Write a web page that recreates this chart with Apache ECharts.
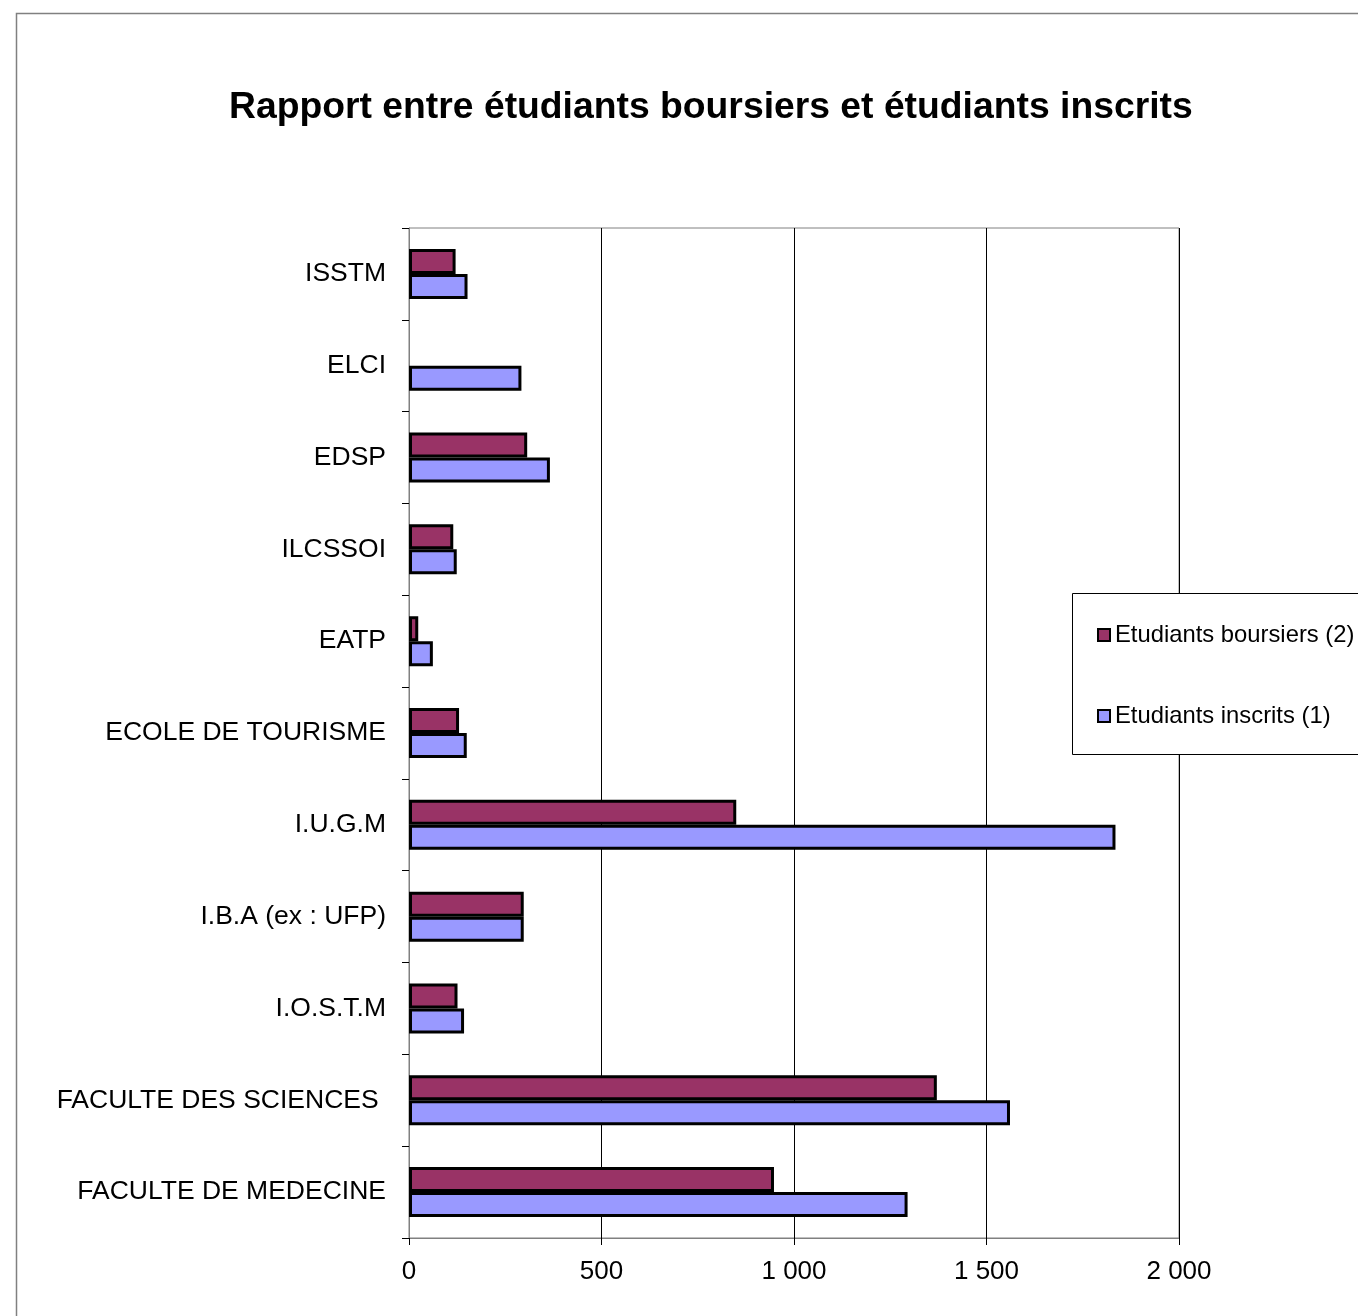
<!DOCTYPE html>
<html>
<head>
<meta charset="utf-8">
<script src="https://cdn.jsdelivr.net/npm/echarts@6/dist/echarts.min.js"></script>
<style>
html,body{margin:0;padding:0;background:#fff;}
#chart{width:1358px;height:1316px;}
</style>
</head>
<body>
<div id="chart"></div>
<script>
// Categories listed bottom to top
const categories = ['FACULTE DE MEDECINE', 'FACULTE DES SCIENCES ', 'I.O.S.T.M', 'I.B.A (ex : UFP)', 'I.U.G.M', 'ECOLE DE TOURISME', 'EATP', 'ILCSSOI', 'EDSP', 'ELCI', 'ISSTM'];
const boursiers = [948, 1371, 126, 298, 850, 130, 24, 115, 307, 0, 121];
const inscrits = [1295, 1561, 143, 298, 1835, 150, 62, 124, 366, 292, 152];
const seriesNames = ['Etudiants boursiers (2)', 'Etudiants inscrits (1)'];
const xTicks = [0, 500, 1000, 1500, 2000];

const font = '"Liberation Sans", Arial, sans-serif';
const chart = echarts.init(document.getElementById('chart'), null, {renderer: 'canvas'});

function fmt(v) {
  return String(v).replace(/\B(?=(\d{3})+(?!\d))/g, ' ');
}
function barData(arr) {
  return arr.map(v => v === 0 ? {value: 0, itemStyle: {borderWidth: 0}} : v);
}

chart.setOption({
  animation: false,
  backgroundColor: '#fff',
  title: {
    text: 'Rapport entre étudiants boursiers et étudiants inscrits',
    left: 229,
    top: 89,
    padding: 0,
    textStyle: {fontFamily: font, fontSize: 37.3, fontWeight: 'bold', color: '#000'}
  },
  graphic: {
    elements: [
      {type: 'rect', z: 1, shape: {x: 16.5, y: 13.5, width: 1500, height: 1500}, style: {fill: 'none', stroke: '#808080', lineWidth: 1.5}},
      {type: 'rect', z: 50, shape: {x: 1072.5, y: 593.5, width: 400, height: 161}, style: {fill: '#fff', stroke: '#000', lineWidth: 1}}
    ]
  },
  legend: {
    orient: 'vertical',
    left: 1097,
    top: 623,
    padding: 0,
    itemWidth: 12,
    itemHeight: 12,
    itemGap: 57,
    icon: 'rect',
    z: 60,
    textStyle: {fontFamily: font, fontSize: 23.8, color: '#000'},
    data: seriesNames
  },
  grid: {
    left: 409, right: 179, top: 228, bottom: 78,
    show: true, borderColor: '#808080', borderWidth: 1, backgroundColor: '#fff'
  },
  xAxis: {
    type: 'value',
    min: xTicks[0],
    max: xTicks[xTicks.length - 1],
    interval: 500,
    axisLine: {show: true, lineStyle: {color: '#808080', width: 1}},
    axisTick: {show: true, length: 7, lineStyle: {color: '#000'}},
    axisLabel: {fontFamily: font, fontSize: 26, color: '#000', margin: 21, formatter: fmt},
    splitLine: {show: true, lineStyle: {color: '#000', width: 1}}
  },
  yAxis: {
    type: 'category',
    data: categories,
    axisLine: {show: true, lineStyle: {color: '#808080', width: 1}},
    axisTick: {show: true, length: 7, lineStyle: {color: '#000'}},
    axisLabel: {fontFamily: font, fontSize: 26.5, color: '#000', margin: 23, lineHeight: 30, padding: [6, 0, 0, 0]},
    splitLine: {show: false}
  },
  series: [
    {
      name: seriesNames[0], type: 'bar', data: barData(boursiers),
      barWidth: 25, barGap: '0%',
      itemStyle: {color: '#993366', borderColor: '#000', borderWidth: 3}
    },
    {
      name: seriesNames[1], type: 'bar', data: barData(inscrits),
      barWidth: 25, barGap: '0%',
      itemStyle: {color: '#9999FF', borderColor: '#000', borderWidth: 3}
    }
  ]
});
</script>
</body>
</html>
